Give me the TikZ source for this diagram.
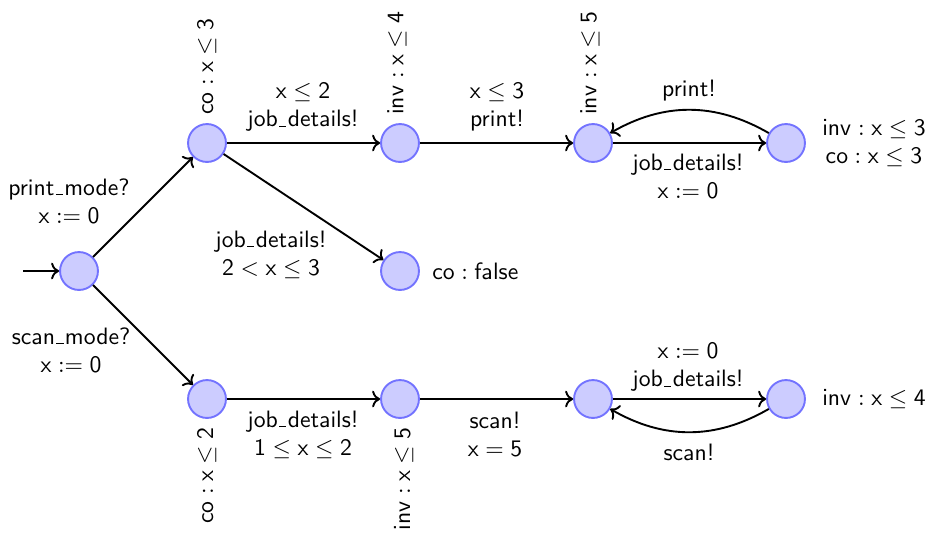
\documentclass[tikz,border=0pt]{standalone}
\usetikzlibrary{arrows.meta}
\renewcommand{\familydefault}{\sfdefault}
\newcommand{\us}{\leavevmode\kern.06em\vbox{\hrule width.3em}\kern.06em}
\begin{document}
\begin{tikzpicture}[x=0.422pt,y=-0.422pt,
  state/.style={circle,draw=blue!55,fill=blue!20,thick,minimum size=16pt,inner sep=0pt},
  tr/.style={->,thick},
  lbl/.style={align=center,inner sep=0pt}]
\useasboundingbox (0,0) rectangle (932,539);
% states
\node[state] (n0) at (79,271) {};
\node[state,label={[rotate=90,anchor=west,label distance=0pt]north:$\mathsf{co : x \leq 3}$}] (n1) at (207,143) {};
\node[state,label={[rotate=90,anchor=west,label distance=1.3pt]north:$\mathsf{inv : x \leq 4}$}] (n2) at (400,143) {};
\node[state,label={[rotate=90,anchor=west,label distance=1.3pt]north:$\mathsf{inv : x \leq 5}$}] (n3) at (593,143) {};
\node[state,label={[align=center,label distance=3.4pt]east:$\mathsf{inv : x \leq 3}$\\$\mathsf{co : x \leq 3}$}] (n4) at (786,143) {};
\node[state,label={[label distance=1.7pt]east:$\mathsf{co : false}$}] (n5) at (400,271) {};
\node[state,label={[rotate=90,anchor=east,label distance=0pt]south:$\mathsf{co : x \leq 2}$}] (n6) at (207,399) {};
\node[state,label={[rotate=90,anchor=east,label distance=1.5pt]south:$\mathsf{inv : x \leq 5}$}] (n7) at (400,399) {};
\node[state] (n8) at (593,399) {};
\node[state,label={[label distance=3.4pt]east:$\mathsf{inv : x \leq 4}$}] (n9) at (786,399) {};
\coordinate (init) at (23,271);
% transitions
\draw[tr] (init) -- (n0);
\draw[tr] (n0) -- (n1);
\draw[tr] (n0) -- (n6);
\draw[tr] (n1) -- (n2);
\draw[tr] (n1) -- (n5);
\draw[tr] (n2) -- (n3);
\draw[tr] (n3) -- (n4);
\draw[tr] (n4) to[bend right=30] (n3);
\draw[tr] (n6) -- (n7);
\draw[tr] (n7) -- (n8);
\draw[tr] (n8) -- (n9);
\draw[tr] (n9) to[bend left=30] (n8);
% transition labels
\node[lbl] (l01) at (69,201) {print\us mode?\\$\mathsf{x := 0}$};
\node[lbl] (l06) at (71,350) {scan\us mode?\\$\mathsf{x := 0}$};
\node[lbl] (l12) at (303,107) {$\mathsf{x \leq 2}$\\job\us details!};
\node[lbl] (l15) at (271,255) {job\us details!\\$\mathsf{2 < x \leq 3}$};
\node[lbl] (l23) at (497,107) {$\mathsf{x \leq 3}$\\print!};
\node[lbl] (l34) at (688,176) {job\us details!\\$\mathsf{x := 0}$};
\node[lbl] (l43) at (689,91) {print!};
\node[lbl] (l67) at (303,435) {job\us details!\\$\mathsf{1 \leq x \leq 2}$};
\node[lbl] (l78) at (495,434) {scan!\\$\mathsf{x = 5}$};
\node[lbl] (l89) at (688,367) {$\mathsf{x := 0}$\\job\us details!};
\node[lbl] (l98) at (689,452) {scan!};
\end{tikzpicture}
\end{document}
